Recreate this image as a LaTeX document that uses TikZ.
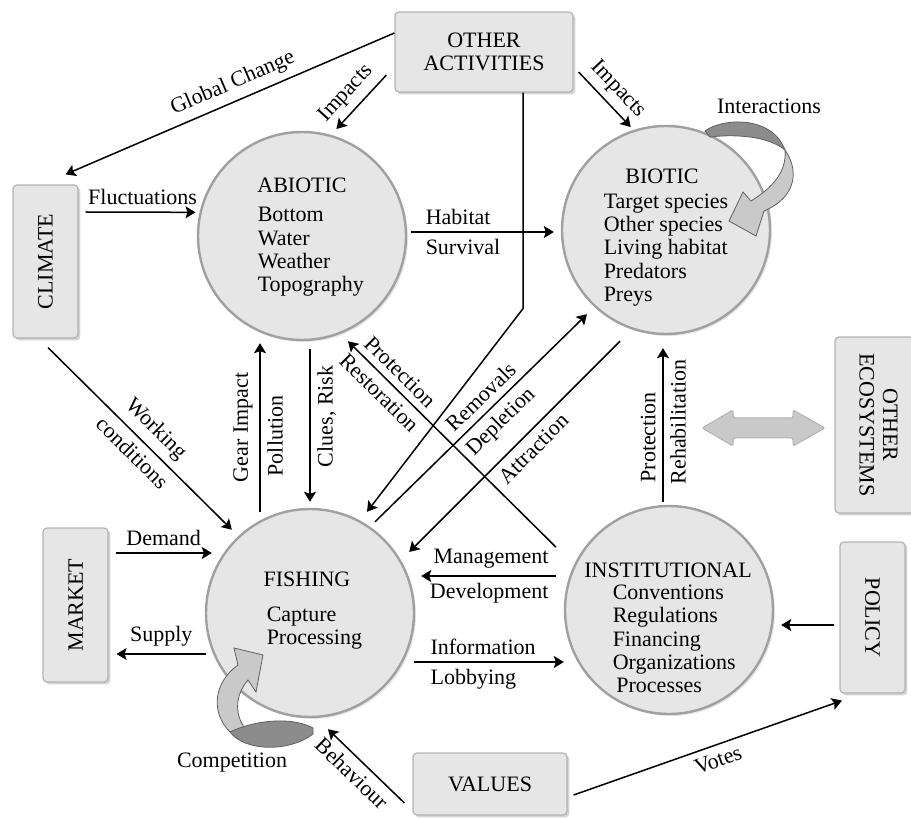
\documentclass[tikz,border=0pt]{standalone}
\usepackage{fontspec}
\setmainfont{Liberation Serif}
\usepackage{tikz}
\usetikzlibrary{shapes,positioning,fit,arrows.meta,shadows}
\definecolor{boxgray}{HTML}{E6E6E6}
\definecolor{rimgray}{HTML}{A0A0A0}
\definecolor{darkband}{HTML}{8C8C8C}
\definecolor{lightband}{HTML}{C9C9C9}

\begin{document}
\begin{tikzpicture}[x=0.5pt, y=-0.5pt,
  font=\fontsize{11}{11.7}\selectfont,
  >={Stealth[length=5pt,width=6pt,inset=1pt]}, line width=0.75pt,
  box/.style={draw=rimgray!80, fill=boxgray, rounded corners=2pt, line width=0.6pt,
    drop shadow={opacity=0.35, shadow xshift=1.2pt, shadow yshift=-1.2pt}},
  circ/.style={circle, draw=rimgray, fill=boxgray, line width=1.2pt, minimum size=104pt,
    inner sep=0pt, drop shadow={opacity=0.2, shadow xshift=1pt, shadow yshift=-1pt}},
  lst/.style={align=left, anchor=west, inner sep=0pt},
  band/.style={draw=gray!75!black, line width=0.4pt}]
  \clip (0,0) rectangle (911,818);
  \node[box, minimum width=89pt, minimum height=40pt, align=center] (OA) at (484,52) {OTHER\\ACTIVITIES};
  \node[box, minimum width=32.5pt, minimum height=76.5pt] (CL) at (45.5,261.5) {\rotatebox{90}{CLIMATE}};
  \node[box, minimum width=32.5pt, minimum height=77pt] (MK) at (75.5,605) {\rotatebox{90}{MARKET}};
  \node[box, minimum width=41pt, minimum height=88pt] (OE) at (876,425) {\rotatebox{-90}{\begin{tabular}{@{}c@{}}OTHER\\ECOSYSTEMS\end{tabular}}};
  \node[box, minimum width=32.5pt, minimum height=75.5pt] (PO) at (872.5,617.5) {\rotatebox{-90}{POLICY}};
  \node[box, minimum width=77pt, minimum height=31pt] (VA) at (490,784) {VALUES};
  \node[circ] (AB) at (302,236) {};
  \node[circ] (BI) at (666,230) {};
  \node[circ] (FI) at (310,613) {};
  \node[circ] (IN) at (669,610) {};
  \node (ABt) at (302,185) {ABIOTIC};
  \node[lst] (ABl) at (257,252) {Bottom\\Water\\Weather\\Topography};
  \node (BIt) at (662,176) {BIOTIC};
  \node[lst] (BIl) at (603,250) {Target species\\Other species\\Living habitat\\Predators\\Preys};
  \node (FIt) at (307,579) {FISHING};
  \node[lst] (FIl) at (266,628) {Capture\\Processing};
  \node (INt) at (668,570) {INSTITUTIONAL};
  \node[lst] (INl) at (612,639) {Conventions\\Regulations\\Financing\\Organizations\\\,Processes};
  \draw[->] ([shift={(0,-19)}]OA.west) -- node[sloped, above, pos=0.47] {Global Change} ([shift={(20,-10)}]CL.north);
  \draw[->, shorten >=4pt] ([shift={(-8,23)}]OA.west) -- node[sloped, above] {Impacts} (AB.74);
  \draw[->, shorten >=2pt] ([shift={(5,20)}]OA.east) -- node[sloped, above] {Impacts} (BI.108);
  \draw[->, shorten >=2pt] ([shift={(7,-49.5)}]CL.east) -- node[above] {Fluctuations} (AB.167);
  \draw[->] ([shift={(4,-4)}]AB.east) -- node[pos=0.05, anchor=south west] {Habitat}
    node[pos=0.05, anchor=north west] {Survival} ([shift={(-7,2)}]BI.west);
  \draw[->, shorten >=4.5pt] ([shift={(2.5,9)}]CL.south) -- node[sloped, above] {Working}
    node[sloped, below] {conditions} (FI.133);
  \draw[->] ([shift={(-50,4)}]FI.north) -- node[sloped, above] {Gear Impact}
    node[sloped, below, pos=0.45] {Pollution} ([shift={(-42,2)}]AB.south);
  \draw[->] ([shift={(8,8)}]AB.south) -- node[rotate=90, anchor=north, pos=0.44] {Clues, Risk} ([shift={(0,-6)}]FI.north);
  \draw[->] ([shift={(-8,-63)}]IN.west) -- node[sloped, above, pos=0.8] {Protection}
    node[sloped, below, pos=0.8] {Restoration} ([shift={(46,0)}]AB.south);
  \draw[->] ([shift={(65,14)}]FI.north) -- node[sloped, above, pos=0.55] {Removals}
    node[sloped, below, pos=0.54] {Depletion} ([shift={(-79,-21)}]BI.south);
  \draw[->] ([shift={(-46,6)}]BI.south) -- node[sloped, below, pos=0.46] {Attraction} ([shift={(-6,-61)}]FI.east);
  \draw[->] ([shift={(39,0)}]OA.south) -- ++(0,216) -- ([shift={(57,4)}]FI.north);
  \draw[->] ([shift={(-6,-3)}]IN.north) -- node[sloped, above, pos=0.42] {Protection}
    node[sloped, below, pos=0.52] {Rehabilitation} ([shift={(-3,13)}]BI.south);
  \draw[->] ([shift={(-8,-34)}]IN.west) -- node[pos=0, anchor=south east] {Management}
    node[pos=0, anchor=north east] {Development} ([shift={(6,-37)}]FI.east);
  \draw[->] ([shift={(7,-52)}]MK.east) -- node[above] {Demand} ([shift={(7,-60)}]FI.west);
  \draw[->] ([shift={(1,41)}]FI.west) -- node[above] {Supply} ([shift={(8,49)}]MK.east);
  \draw[->] ([shift={(-1,49)}]FI.east) -- node[pos=0.06, anchor=south west] {Information}
    node[pos=0.06, anchor=north west] {Lobbying} ([shift={(0,52)}]IN.west);
  \draw[->] ([shift={(-5,7.5)}]PO.west) -- ([shift={(7,15)}]IN.east);
  \draw[->] ([shift={(6,11)}]VA.east) -- node[sloped, below, pos=0.52] {Votes} ([shift={(-30.5,7)}]PO.south);
  \draw[->] ([shift={(-8,19)}]VA.west) -- node[sloped, below, pos=0.55] {Behaviour} ([shift={(18,11)}]FI.south);
  \filldraw[band, fill=darkband] (705,131) .. controls (722,118) and (772,115) .. (785,150)
    .. controls (768,136) and (735,134) .. (710,137) -- cycle;
  \filldraw[band, fill=lightband] (785,150) .. controls (799,170) and (797,197) .. (764,211)
    -- (756,236) -- (729,221) -- (743,192) -- (751,201) .. controls (772,188) and (787,172) .. (785,150) -- cycle;
  \node (INT) at (769,106) {Interactions};
  \filldraw[band, fill=lightband] (230,732) .. controls (210,712) and (214,682) .. (238,665)
    -- (234,648) -- (263,655) -- (256,692) -- (248,680) .. controls (236,694) and (234,712) .. (244,727) -- cycle;
  \filldraw[band, fill=darkband] (313,728) .. controls (295,718) and (260,718) .. (230,732)
    .. controls (245,752) and (290,752) .. (313,734) -- cycle;
  \node (COM) at (232,763) {Competition};
  \filldraw[fill=lightband, draw=gray!60, line width=0.5pt, rounded corners=1pt] (702,428) -- (733,410) -- (733,418)
    -- (793,418) -- (793,410) -- (825,428) -- (793,446) -- (793,438) -- (733,438) -- (733,446) -- cycle;
\end{tikzpicture}
\end{document}
